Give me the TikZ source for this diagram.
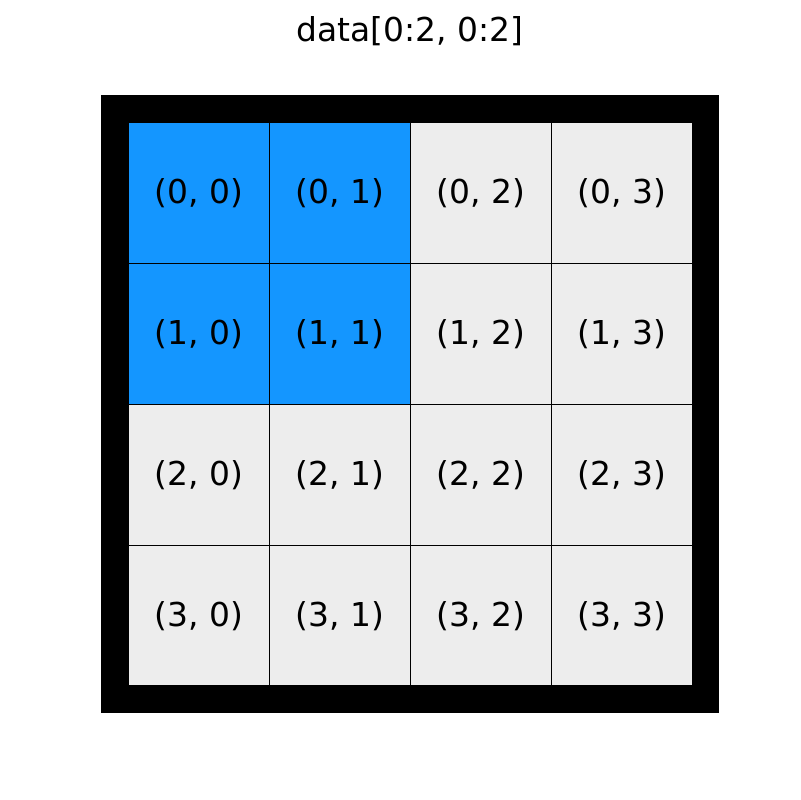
\documentclass[tikz,border=0pt]{standalone}
\usepackage{fontspec}
\setmainfont{DejaVu Sans}
\usepackage{xcolor}
\usepackage{tikz}
\usetikzlibrary{positioning}

\definecolor{selblue}{HTML}{1496FF}
\definecolor{cellgray}{HTML}{EDEDED}

\tikzset{
  cell/.style={draw=black, line width=0.7pt, inner sep=0pt, minimum size=3.525cm,
    fill=cellgray, font=\fontsize{23.4}{28}\selectfont},
  picked/.style={cell, fill=selblue}
}

\begin{document}
\begin{tikzpicture}[x=0.025cm, y=-0.025cm]
      \useasboundingbox (0, 0) rectangle (800, 800);

      \node[font=\fontsize{23.4}{28}\selectfont] (title) at (410, 31) {data[0:2, 0:2]};

      \node[picked] (c00) at (199, 193) {(0, 0)};
      \node[picked] (c01) at (340, 193) {(0, 1)};
      \node[cell] (c02) at (481, 193) {(0, 2)};
      \node[cell] (c03) at (622, 193) {(0, 3)};

      \node[picked] (c10) at (199, 334) {(1, 0)};
      \node[picked] (c11) at (340, 334) {(1, 1)};
      \node[cell] (c12) at (481, 334) {(1, 2)};
      \node[cell] (c13) at (622, 334) {(1, 3)};

      \node[cell] (c20) at (199, 475) {(2, 0)};
      \node[cell] (c21) at (340, 475) {(2, 1)};
      \node[cell] (c22) at (481, 475) {(2, 2)};
      \node[cell] (c23) at (622, 475) {(2, 3)};

      \node[cell] (c30) at (199, 616) {(3, 0)};
      \node[cell] (c31) at (340, 616) {(3, 1)};
      \node[cell] (c32) at (481, 616) {(3, 2)};
      \node[cell] (c33) at (622, 616) {(3, 3)};

      % thick frame round the grid
      \draw[line width=19.6pt] (114.75, 108.75) rectangle (705.5, 698.75);
    \end{tikzpicture}
\end{document}
